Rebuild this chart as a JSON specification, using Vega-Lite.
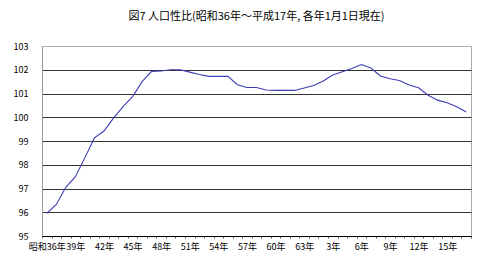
{
  "$schema": "https://vega.github.io/schema/vega-lite/v6.json",
  "autosize": {"type": "none"},
  "padding": {"left": 42, "top": 46, "right": 9, "bottom": 32},
  "width": 429,
  "height": 190,
  "background": "white",
  "title": {
    "text": "図7  人口性比(昭和36年～平成17年, 各年1月1日現在)",
    "font": "Noto Sans CJK JP",
    "fontSize": 11,
    "fontWeight": "normal",
    "color": "#000000",
    "anchor": "middle",
    "frame": "group",
    "offset": 20
  },
  "config": {
    "view": {"stroke": "#a8a8a8", "strokeWidth": 1},
    "axis": {"labelFont": "Noto Sans CJK JP", "labelColor": "#000000", "labelFontSize": 9}
  },
  "data": {
    "values": [
      {"year": 1961, "ratio": 95.95},
      {"year": 1962, "ratio": 96.33},
      {"year": 1963, "ratio": 97.05},
      {"year": 1964, "ratio": 97.5},
      {"year": 1965, "ratio": 98.3},
      {"year": 1966, "ratio": 99.13},
      {"year": 1967, "ratio": 99.42},
      {"year": 1968, "ratio": 99.96},
      {"year": 1969, "ratio": 100.45},
      {"year": 1970, "ratio": 100.87},
      {"year": 1971, "ratio": 101.5},
      {"year": 1972, "ratio": 101.93},
      {"year": 1973, "ratio": 101.95},
      {"year": 1974, "ratio": 102.0},
      {"year": 1975, "ratio": 102.0},
      {"year": 1976, "ratio": 101.9},
      {"year": 1977, "ratio": 101.8},
      {"year": 1978, "ratio": 101.72},
      {"year": 1979, "ratio": 101.72},
      {"year": 1980, "ratio": 101.72},
      {"year": 1981, "ratio": 101.37},
      {"year": 1982, "ratio": 101.25},
      {"year": 1983, "ratio": 101.25},
      {"year": 1984, "ratio": 101.15},
      {"year": 1985, "ratio": 101.13},
      {"year": 1986, "ratio": 101.13},
      {"year": 1987, "ratio": 101.13},
      {"year": 1988, "ratio": 101.23},
      {"year": 1989, "ratio": 101.34},
      {"year": 1990, "ratio": 101.53},
      {"year": 1991, "ratio": 101.78},
      {"year": 1992, "ratio": 101.92},
      {"year": 1993, "ratio": 102.05},
      {"year": 1994, "ratio": 102.22},
      {"year": 1995, "ratio": 102.07},
      {"year": 1996, "ratio": 101.74},
      {"year": 1997, "ratio": 101.62},
      {"year": 1998, "ratio": 101.55},
      {"year": 1999, "ratio": 101.36},
      {"year": 2000, "ratio": 101.24},
      {"year": 2001, "ratio": 100.93},
      {"year": 2002, "ratio": 100.72},
      {"year": 2003, "ratio": 100.61},
      {"year": 2004, "ratio": 100.44},
      {"year": 2005, "ratio": 100.22}
    ]
  },
  "mark": {"type": "line", "color": "#3c3cb4", "strokeWidth": 1.1},
  "encoding": {
    "x": {
      "field": "year",
      "type": "quantitative",
      "scale": {"domain": [1960.5, 2005.5], "nice": false, "zero": false},
      "axis": {
        "title": null,
        "grid": false,
        "domainColor": "#000000",
        "domainWidth": 1,
        "values": [1960.5, 1961.5, 1962.5, 1963.5, 1964.5, 1965.5, 1966.5, 1967.5, 1968.5, 1969.5, 1970.5, 1971.5, 1972.5, 1973.5, 1974.5, 1975.5, 1976.5, 1977.5, 1978.5, 1979.5, 1980.5, 1981.5, 1982.5, 1983.5, 1984.5, 1985.5, 1986.5, 1987.5, 1988.5, 1989.5, 1990.5, 1991.5, 1992.5, 1993.5, 1994.5, 1995.5, 1996.5, 1997.5, 1998.5, 1999.5, 2000.5, 2001.5, 2002.5, 2003.5, 2004.5, 2005.5, 1961, 1964, 1967, 1970, 1973, 1976, 1979, 1982, 1985, 1988, 1991, 1994, 1997, 2000, 2003],
        "labelExpr": "datum.value % 1 != 0 ? '' : datum.value == 1961 ? '昭和36年' : datum.value <= 1988 ? (datum.value - 1925) + '年' : (datum.value - 1988) + '年'",
        "labelOverlap": false,
        "labelFlush": false,
        "labelPadding": 4,
        "tickSize": 2,
        "tickColor": {"condition": {"test": "datum.value % 1 != 0", "value": "#555555"}, "value": "transparent"}
      }
    },
    "y": {
      "field": "ratio",
      "type": "quantitative",
      "scale": {"domain": [95, 103], "nice": false, "zero": false},
      "axis": {
        "title": null,
        "values": [95, 96, 97, 98, 99, 100, 101, 102, 103],
        "ticks": false,
        "labelPadding": 14,
        "domainColor": "#999999",
        "grid": true,
        "gridColor": {"condition": {"test": "datum.value == 103", "value": "#b0b0b0"}, "value": "#333333"},
        "gridWidth": 1
      }
    }
  }
}
